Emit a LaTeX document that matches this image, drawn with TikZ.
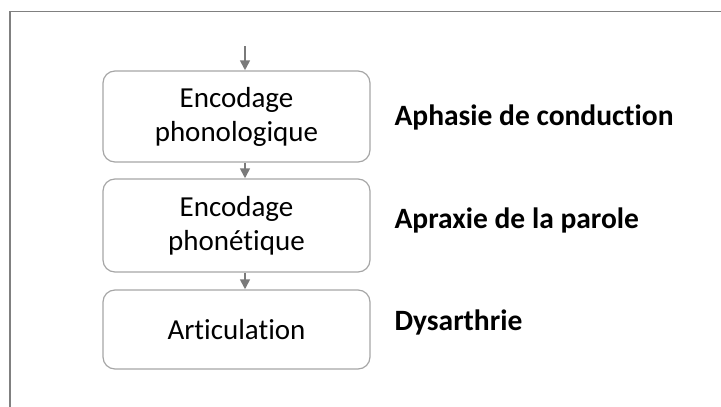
\documentclass[tikz,border=0pt]{standalone}
\usepackage{fontspec}
\setmainfont{Carlito}[Ligatures=NoCommon]
\usetikzlibrary{arrows.meta}

\tikzset{
  stage/.style={draw=black!35, line width=1.2pt, rounded corners=12pt,
    minimum width=267pt, align=center, font=\fontsize{29}{34}\selectfont},
  flow/.style={draw=black!52, line width=2.6pt,
    -{Triangle[width=9.5pt,length=10pt]}},
  disorder/.style={anchor=west, font=\fontsize{29.5}{32}\selectfont\bfseries},
}

\begin{document}
\begin{tikzpicture}[x=1pt, y=-1pt]
    \useasboundingbox (0,0) rectangle (721,407);
    %% slide frame
    \draw[black!50, line width=1.5pt] (721,11.5) -- (10,11.5) -- (10,407);
    %% processing stages
    \node[stage, minimum height=91pt] (phono) at (236.5,116.5) {Encodage\\phonologique};
    \node[stage, minimum height=93pt] (phonet) at (236.5,225.5) {Encodage\\phonétique};
    \node[stage, minimum height=79pt] (artic) at (236.5,329.5) {Articulation};
    %% arrows between stages
    \coordinate (input) at (245,46);
    \draw[flow] (input) -- (input |- phono.north);
    \draw[flow] ([xshift=8.5pt]phono.south) -- ([xshift=8.5pt]phonet.north);
    \draw[flow] ([xshift=8.5pt]phonet.south) -- ([xshift=8.5pt]artic.north);
    %% matching disorders
    \node[disorder] (conduction) at (391,117) {Aphasie de conduction};
    \node[disorder] (apraxie) at (391,220) {Apraxie de la parole};
    \node[disorder] (dysarthrie) at (391,322) {Dysarthrie};
\end{tikzpicture}
\end{document}
